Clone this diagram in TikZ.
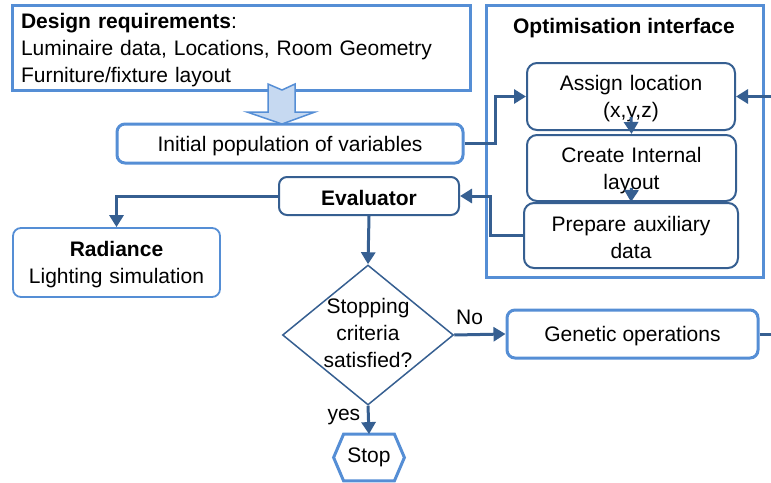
\documentclass[tikz,border=0pt]{standalone}
\usepackage{fontspec}
\setmainfont{Liberation Sans}
\usetikzlibrary{arrows.meta,shapes.geometric}
\definecolor{lightblue}{RGB}{85,142,213}
\definecolor{darkblue}{RGB}{54,95,145}
\definecolor{arrowfill}{RGB}{198,217,241}

\begin{document}
\begin{tikzpicture}[
    x=0.5pt, y=-0.5pt,
    font=\fontsize{10.5}{13.5}\selectfont,
    boxtext/.style={execute at begin node={\rule{0pt}{10pt}}},
    outerbox/.style={rectangle, draw=lightblue, line width=1.5pt, inner sep=0pt},
    lightnode/.style={rectangle, rounded corners=4pt, draw=lightblue, line width=1.5pt, fill=white, inner sep=0pt, align=center, boxtext},
    darknode/.style={rectangle, rounded corners=5pt, draw=darkblue, line width=1pt, fill=white, inner sep=0pt, align=center, boxtext},
    decision/.style={diamond, draw=darkblue, line width=0.75pt, inner sep=0pt, minimum width=85.5pt, minimum height=70pt},
    stopnode/.style={rectangle, inner sep=0pt, minimum width=35pt, minimum height=23pt},
    hexline/.style={draw=lightblue, line width=1.5pt, line join=miter},
    flow/.style={draw=darkblue, line width=1.5pt, -{Triangle[length=6pt,width=7pt]}}
  ]
  \useasboundingbox (0,0) rectangle (771,482);

  %Nodes
  \node[outerbox, boxtext, minimum width=229pt, minimum height=42.5pt, text width=220pt, align=left] (design) at (241,47.5)
    {\textbf{Design requirements}:\\Luminaire data, Locations, Room Geometry\\Furniture/fixture layout};
  \node[outerbox, minimum width=138.5pt, minimum height=136pt] (optim) at (624.5,141) {};
  \node (optimtitle) at (624,28) {\textbf{Optimisation interface}};
  \node[lightnode, minimum width=173pt, minimum height=19.5pt] (init) at (290,143.5) {Initial population of variables};
  \node[darknode, text width=100pt, minimum width=104pt, minimum height=33.5pt] (assign) at (631,96.5) {Assign location\\(x,y,z)};
  \node[darknode, text width=100pt, minimum width=104.5pt, minimum height=33pt] (create) at (631.5,168) {Create Internal\\layout};
  \node[darknode, text width=100pt, minimum width=107pt, minimum height=32.5pt] (prepare) at (631,235.5) {Prepare auxiliary\\data};
  \node[darknode, rounded corners=4pt, minimum width=90pt, minimum height=19pt] (eval) at (369,196) {\textbf{Evaluator}};
  \node[lightnode, line width=0.9pt, text width=100pt, minimum width=103.5pt, minimum height=34.5pt] (radiance) at (116.5,262.5) {\textbf{Radiance}\\Lighting simulation};
  \node[decision] (crit) at (368,335) {};
  \node[align=center] (crittext) at ([yshift=1pt]crit.center) {Stopping\\criteria\\satisfied?};
  \node[lightnode, minimum width=125.5pt, minimum height=24pt] (genetic) at (632.5,334) {Genetic operations};
  \node[stopnode] (stop) at (369,457.5) {Stop};
  \draw[hexline] (stop.west) -- ([xshift=5pt]stop.north west) -- ([xshift=-5pt]stop.north east)
    -- (stop.east) -- ([xshift=-5pt]stop.south east) -- ([xshift=5pt]stop.south west) -- cycle;

  %Block arrow
  \draw[draw=lightblue, fill=arrowfill, line width=0.75pt]
    (268,84) -- (282,90) -- (295,84) -- (295,112) -- (315,112) -- (282,124) -- (247,112) -- (268,112) -- cycle;

  %Lines
  \draw[flow] (init.east) -- ++(31,0) |- (assign.west);
  \draw[flow] ([yshift=7pt]assign.south) -- (create.north);
  \draw[flow] ([yshift=7pt]create.south) -- (prepare.north);
  \draw[flow] (prepare.west) -- ++(-33,0) |- (eval.east);
  \draw[flow] (eval.west) -| (radiance.north);
  \draw[flow] (eval.south) -- (crit.north);
  \draw[flow] (crit.east) -- (genetic.west) node[pos=0.3, above=1pt, text=black] {No};
  \draw[flow] (crit.south) -- (stop.north) node[pos=0.4, left, text=black] {yes};
  \begin{scope}
    \clip (0,0) rectangle (771,482);
    \draw[flow] (genetic.east) -- (790,334) |- (assign.east);
  \end{scope}

\end{tikzpicture}
\end{document}
